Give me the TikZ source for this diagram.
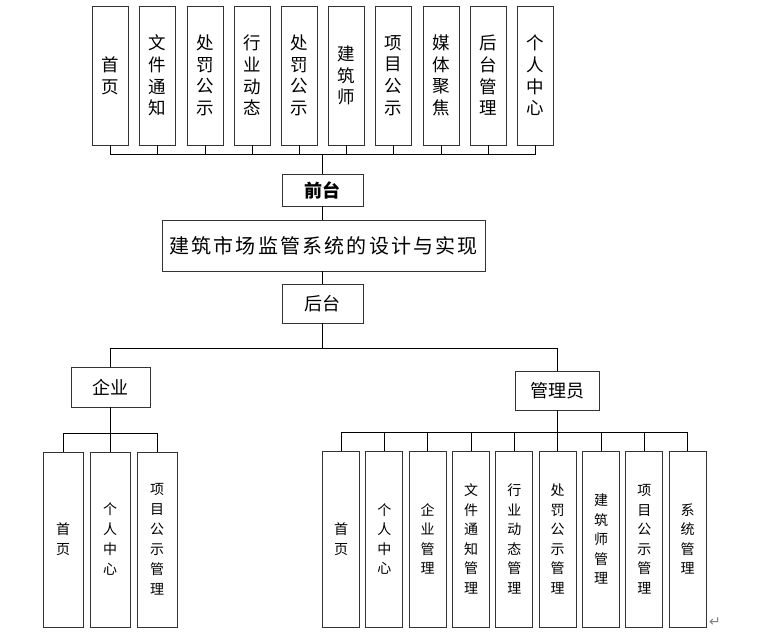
\documentclass[tikz,border=0pt]{standalone}
\usepackage{fontspec}
\setmainfont{Noto Sans CJK SC}
\newfontfamily\titlefont[LetterSpace=11]{Noto Sans CJK SC}
\newfontfamily\symfont{DejaVu Sans}

\begin{document}
\begin{tikzpicture}[x=1pt, y=-1pt,
    frontmenu/.style ={rectangle, draw=black!80, line width=0.8pt, inner sep=0pt, minimum width=36pt, minimum height=139pt, align=center, font=\fontsize{17.5}{21.7}\selectfont},
    qymenu/.style ={rectangle, draw=black!80, line width=0.8pt, inner sep=0pt, minimum width=40pt, minimum height=175pt, align=center, font=\fontsize{14}{20}\selectfont},
    glmenu/.style ={rectangle, draw=black!80, line width=0.8pt, inner sep=0pt, minimum width=37pt, minimum height=176pt, align=center, font=\fontsize{14}{19.5}\selectfont},
    role/.style ={rectangle, draw=black!80, line width=0.8pt, inner sep=0pt, font=\fontsize{18}{18}\selectfont},
    link/.style ={line width=0.8pt, black}]
   \useasboundingbox (0,0) rectangle (758,641);

   % front menus
   \node[frontmenu] (f1)  at (110.5,75.5)  {首\\页};
   \node[frontmenu] (f2)  at (157.7,75.5)  {文\\件\\通\\知};
   \node[frontmenu] (f3)  at (204.9,75.5)  {处\\罚\\公\\示};
   \node[frontmenu] (f4)  at (252.1,75.5)  {行\\业\\动\\态};
   \node[frontmenu] (f5)  at (299.3,75.5)  {处\\罚\\公\\示};
   \node[frontmenu] (f6)  at (346.5,75.5)  {建\\筑\\师};
   \node[frontmenu] (f7)  at (393.7,75.5)  {项\\目\\公\\示};
   \node[frontmenu] (f8)  at (440.9,75.5)  {媒\\体\\聚\\焦};
   \node[frontmenu] (f9)  at (488.1,75.5)  {后\\台\\管\\理};
   \node[frontmenu] (f10) at (535.3,75.5)  {个\\人\\中\\心};

   % system and its two parts
   \node[role, minimum width=81pt, minimum height=32pt, font=\bfseries\fontsize{18}{18}\selectfont] (qiantai) at (322.5,190) {前台};
   \node[role, minimum width=323pt, minimum height=51pt, font=\titlefont\fontsize{20}{20}\selectfont] (main) at (323.5,245.5) {建筑市场监管系统的设计与实现};
   \node[role, minimum width=81pt, minimum height=39pt] (houtai) at (322.5,303.5) {后台};

   % roles
   \node[role, minimum width=79pt, minimum height=40pt] (qiye) at (110.5,387) {企业};
   \node[role, minimum width=84pt, minimum height=39pt] (guanli) at (557.7,390.5) {管理员};

   % enterprise menus
   \node[qymenu] (q1) at (63,539.5)  {首\\页};
   \node[qymenu] (q2) at (110,539.5) {个\\人\\中\\心};
   \node[qymenu] (q3) at (157,539.5) {项\\目\\公\\示\\管\\理};

   % manager menus
   \node[glmenu] (m1) at (341,539)   {首\\页};
   \node[glmenu] (m2) at (384.3,539) {个\\人\\中\\心};
   \node[glmenu] (m3) at (427.7,539) {企\\业\\管\\理};
   \node[glmenu] (m4) at (471,539)   {文\\件\\通\\知\\管\\理};
   \node[glmenu] (m5) at (514.3,539) {行\\业\\动\\态\\管\\理};
   \node[glmenu] (m6) at (557.7,539) {处\\罚\\公\\示\\管\\理};
   \node[glmenu] (m7) at (601,539)   {建\\筑\\师\\管\\理};
   \node[glmenu] (m8) at (644.3,539) {项\\目\\公\\示\\管\\理};
   \node[glmenu] (m9) at (687.7,539) {系\\统\\管\\理};

   \node[text=black!50, font=\symfont\fontsize{14}{14}\selectfont] (mark) at (715,622) {↵};

   % bus points
   \coordinate (frontbus) at (322.5,154);
   \coordinate (backbus)  at (322.5,348);
   \coordinate (qybus)    at (110.5,433);
   \coordinate (glbus)    at (557.7,432);

   \draw[link] (f1.south)  |- (frontbus);
   \draw[link] (f2.south)  |- (frontbus);
   \draw[link] (f3.south)  |- (frontbus);
   \draw[link] (f4.south)  |- (frontbus);
   \draw[link] (f5.south)  |- (frontbus);
   \draw[link] (f6.south)  |- (frontbus);
   \draw[link] (f7.south)  |- (frontbus);
   \draw[link] (f8.south)  |- (frontbus);
   \draw[link] (f9.south)  |- (frontbus);
   \draw[link] (f10.south) |- (frontbus);
   \draw[link] (frontbus) -- (qiantai.north);

   \draw[link] (qiantai.south) -- (qiantai.south |- main.north);
   \draw[link] (houtai.north |- main.south) -- (houtai.north);
   \draw[link] (houtai.south) -- (backbus);

   \draw[link] (qiye.north)   |- (backbus);
   \draw[link] (guanli.north) |- (backbus);

   \draw[link] (qiye.south) -- (qybus);
   \draw[link] (q1.north) |- (qybus);
   \draw[link] (q2.north) |- (qybus);
   \draw[link] (q3.north) |- (qybus);

   \draw[link] (guanli.south) -- (glbus);
   \draw[link] (m1.north) |- (glbus);
   \draw[link] (m2.north) |- (glbus);
   \draw[link] (m3.north) |- (glbus);
   \draw[link] (m4.north) |- (glbus);
   \draw[link] (m5.north) |- (glbus);
   \draw[link] (m6.north) |- (glbus);
   \draw[link] (m7.north) |- (glbus);
   \draw[link] (m8.north) |- (glbus);
   \draw[link] (m9.north) |- (glbus);
 \end{tikzpicture}
\end{document}
